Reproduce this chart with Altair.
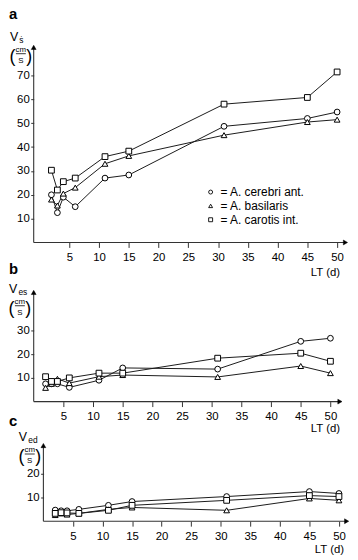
import altair as alt
import pandas as pd

# ---------------- data ----------------
days = [2, 3, 4, 6, 11, 15, 31, 45, 50]
series_names = ["A. cerebri ant.", "A. basilaris", "A. carotis int."]

vs_cerebri = [20, 12.5, 19, 15, 27, 28.3, 48.7, 52, 54.7]
vs_basilaris = [18, 15.5, 20.5, 23, 33, 36.3, 45, 50.5, 51.5]
vs_carotis = [30.3, 22, 25.5, 27, 36, 38.3, 58, 60.8, 71.5]

ves_cerebri = [7.5, 7.5, 7.5, 6, 9, 14.2, 13.7, 25.4, 26.7]
ves_basilaris = [5.8, 7.5, 9.6, 7.8, 10.5, 11.2, 10.4, 15, 12]
ves_carotis = [10.5, 8.5, 8.5, 10, 12, 12, 18.3, 20.4, 17]

ved_cerebri = [4.7, 4.4, 4.4, 5, 6.7, 8.3, 10.4, 12.5, 11.7]
ved_basilaris = [2.6, 3.3, 2.8, 3.3, 5, 5.8, 4.6, 9.6, 8.8]
ved_carotis = [3.3, 3.6, 3.5, 3.3, 4.6, 6.7, 8.8, 10.8, 10.4]

x_ticks = [5, 10, 15, 20, 25, 30, 35, 40, 45, 50]
ya_ticks = [10, 20, 30, 40, 50, 60, 70]
yb_ticks = [10, 20, 30]
yc_ticks = [10, 20]

FONT = "Liberation Sans"
SHAPES = ["circle", "triangle-up", "square"]
AXIS_COLOR = "#333333"


def long_df(cols):
    rows = []
    for name, vals in zip(series_names, cols):
        for d, v in zip(days, vals):
            rows.append({"day": d, "v": v, "series": name})
    return pd.DataFrame(rows)


one = pd.DataFrame({"k": [0]})


def txt(s, px, py, size, weight="normal", align="left"):
    return alt.Chart(one).mark_text(
        text=s, font=FONT, fontSize=size, fontWeight=weight, align=align,
        baseline="alphabetic", color="black"
    ).encode(x=alt.value(px), y=alt.value(py))


def bar(px1, px2, py):
    return alt.Chart(one).mark_rule(color="black", strokeWidth=0.8).encode(
        x=alt.value(px1), x2=alt.value(px2), y=alt.value(py)
    )


def ylabel(sub, dx, dy):
    # V with subscript and (cm / S) fraction, placed relative to plot origin
    return [
        txt("V", dx, dy, 12.5),
        txt(sub, dx + 9.5, dy + 2, 8.5),
        txt("(", dx - 0.5, dy + 21, 18),
        txt("cm", dx + 11, dy + 11, 8, align="center"),
        bar(dx + 6, dx + 16, dy + 13),
        txt("S", dx + 11, dy + 22, 8, align="center"),
        txt(")", dx + 16.5, dy + 21, 18),
    ]


def legend_layers(dx, dy, step):
    out = []
    for i, (name, shp) in enumerate(zip(series_names, SHAPES)):
        cy = dy + i * step
        out.append(
            alt.Chart(one).mark_point(shape=shp, filled=False, fill="white", stroke="black",
                                      strokeWidth=0.9, size=16, opacity=1)
            .encode(x=alt.value(dx), y=alt.value(cy))
        )
        out.append(txt("= " + name, dx + 10, cy + 4.3, 12))
    return out


def panel(cols, xdom, ydom, width, height, yvals, x_axis0, y_axis_x, arrow_x, arrow_y,
          yoffset=0, extra=()):
    df = long_df(cols)
    xs = alt.Scale(domain=xdom, nice=False, zero=False)
    ys = alt.Scale(domain=ydom, nice=False, zero=False)
    xaxis = alt.Axis(values=x_ticks, domain=False, grid=False, title=None, tickSize=5,
                     labelPadding=4, labelFontSize=11.5, labelFont=FONT, labelColor="black",
                     tickColor=AXIS_COLOR, labelFlush=False)
    yaxis = alt.Axis(values=yvals, domain=False, grid=False, title=None, tickSize=3,
                     labelPadding=1.5, labelFontSize=11.5, labelFont=FONT, labelColor="black",
                     tickColor=AXIS_COLOR, offset=yoffset)
    X = lambda f: alt.X(f, scale=xs, axis=xaxis)
    Y = lambda f: alt.Y(f, scale=ys, axis=yaxis)

    axes_df = pd.DataFrame({"day": [y_axis_x, x_axis0], "day2": [y_axis_x, arrow_x],
                            "v": [0, 0], "v2": [arrow_y, 0]})
    rules = alt.Chart(axes_df).mark_rule(color=AXIS_COLOR, strokeWidth=1.1).encode(
        x=X("day:Q"), x2="day2:Q", y=Y("v:Q"), y2="v2:Q",
    )
    up = alt.Chart(pd.DataFrame({"day": [y_axis_x], "v": [arrow_y]})).mark_point(
        shape="triangle-up", filled=True, fill="black", stroke="black", strokeWidth=0.5,
        size=24, opacity=1
    ).encode(x=X("day:Q"), y=Y("v:Q"))
    right = alt.Chart(pd.DataFrame({"day": [arrow_x], "v": [0]})).mark_point(
        shape="triangle-right", filled=True, fill="black", stroke="black", strokeWidth=0.5,
        size=24, opacity=1
    ).encode(x=X("day:Q"), y=Y("v:Q"))

    lines = alt.Chart(df).mark_line(color="#1a1a1a", strokeWidth=1).encode(
        x=X("day:Q"), y=Y("v:Q"), detail="series:N"
    )
    pts = alt.Chart(df).mark_point(filled=False, fill="white", stroke="black",
                                   strokeWidth=1, opacity=1, fillOpacity=1, size=34).encode(
        x=X("day:Q"), y=Y("v:Q"),
        shape=alt.Shape("series:N", scale=alt.Scale(domain=series_names, range=SHAPES),
                        legend=None),
    )
    return alt.layer(rules, lines, pts, up, right, *extra).properties(width=width, height=height)


# panel a: origin at page (33, ~41)
pa = panel(
    [vs_cerebri, vs_basilaris, vs_carotis], [-0.98, 52.0], [0, 83.3], 319, 201, ya_ticks,
    x_axis0=-0.98, y_axis_x=-0.98, arrow_x=51.4, arrow_y=81.8,
    extra=[txt("a", -25, -25, 15, "bold"), *ylabel("ṡ", -24, -3),
           *legend_layers(179, 150, 14),
           txt("LT (d)", 310, 235, 11.5, align="right"),
           txt("b", -25, 233, 15, "bold")],
)
# panel b
pb = panel(
    [ves_cerebri, ves_basilaris, ves_carotis], [0, 52.3], [0, 50.4], 314, 121, yb_ticks,
    x_axis0=0, y_axis_x=0, arrow_x=51.6, arrow_y=46,
    extra=[*ylabel("es", -25, 11),
           txt("LT (d)", 310, 152, 11.5, align="right"),
           txt("c", -25, 146, 15, "bold")],
)
# panel c: its y axis sits at day 0
pc = panel(
    [ved_cerebri, ved_basilaris, ved_carotis], [-1.64, 51.87], [0, 33.75], 320, 81, yc_ticks,
    x_axis0=0, y_axis_x=0, arrow_x=51.3, arrow_y=31.9, yoffset=-10,
    extra=[*ylabel("ed", -15, 0),
           txt("LT (d)", 314, 113, 11.5, align="right")],
)

chart = alt.vconcat(pa, pb, pc, spacing=40, bounds="flush").resolve_scale(
    x="independent", y="independent", shape="independent"
).properties(
    padding={"top": -4, "left": 0, "right": 0, "bottom": 0}, background="white"
).configure_view(stroke=None)

chart.save("out.html", embed_options={"renderer": "svg", "actions": False})
